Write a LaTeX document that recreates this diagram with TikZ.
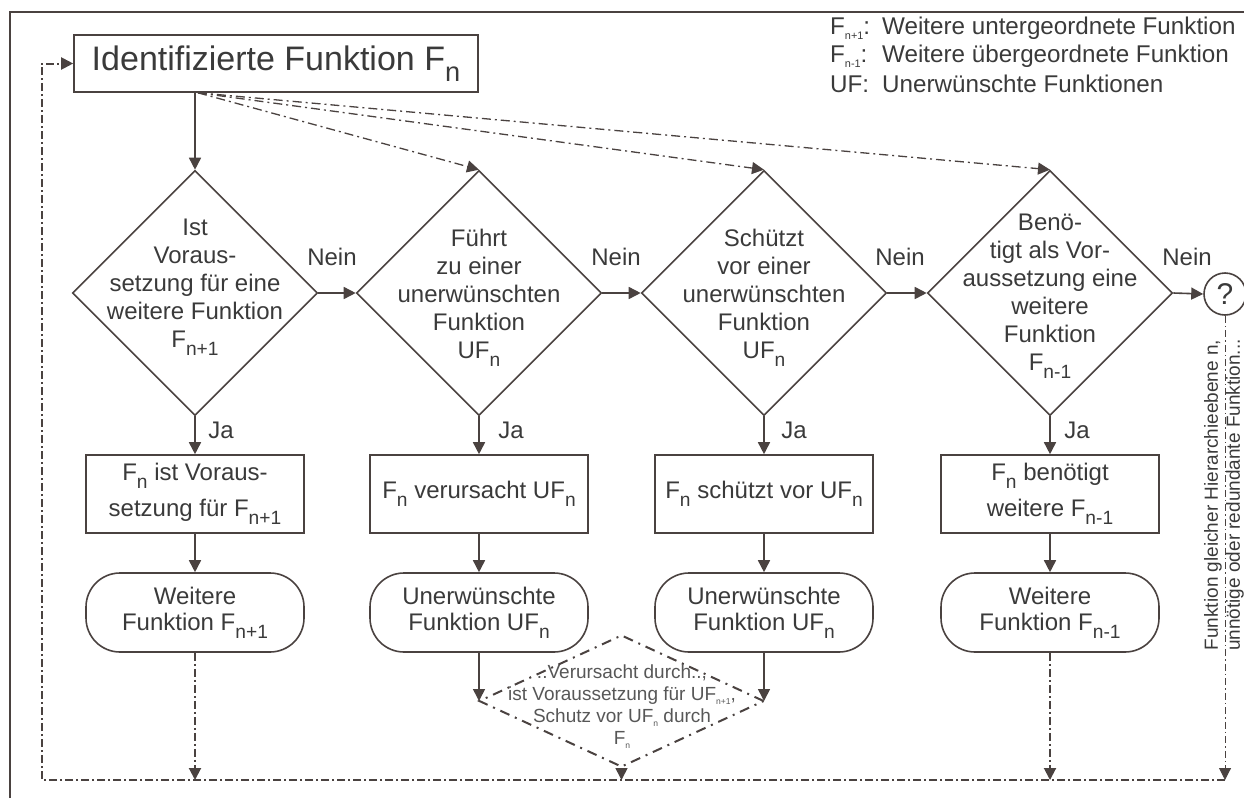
\documentclass[tikz,border=0pt]{standalone}
\usepackage{fontspec}
\setmainfont{Liberation Sans}
\usepackage{graphicx}
\usetikzlibrary{arrows.meta,shapes.geometric,calc}

\definecolor{ink}{RGB}{74,66,64}
\definecolor{txt}{RGB}{58,58,58}

% lowered subscripts as used in the chart
\newcommand\lsub[1]{\raisebox{-0.33em}{\scalebox{0.8}{#1}}}
\newcommand\tsub[1]{\raisebox{-0.2em}{\scalebox{0.45}{#1}}}
\newcommand\fs[2]{\fontsize{#1pt}{#2pt}\selectfont}

\begin{document}
\begin{tikzpicture}[x=1pt,y=-1pt,
  every node/.style={text=txt},
  solidline/.style={draw=ink, line width=1.6pt},
  tip/.style={-{Triangle[width=12pt,length=12pt]}},
  fanline/.style={draw=ink, line width=1.3pt, dash pattern=on 9pt off 4pt on 2pt off 4pt},
  returnline/.style={draw=ink, line width=2pt, dash pattern=on 8pt off 3pt on 2pt off 3pt},
  fineline/.style={draw=ink, line width=1pt, dash pattern=on 7pt off 3pt on 1.5pt off 3pt},
  titlebox/.style={draw=ink, line width=1.6pt, minimum width=404pt, minimum height=57pt, inner sep=0pt, font=\fs{34}{40}},
  dia/.style={diamond, aspect=1, draw=ink, line width=1.6pt, minimum width=245pt, minimum height=245pt, inner sep=0pt},
  dtext/.style={align=center, font=\fs{24}{28}, inner sep=0pt},
  stepbox/.style={draw=ink, line width=1.6pt, minimum width=218pt, minimum height=78pt, align=center, font=\fs{24}{36}, inner sep=0pt},
  term/.style={draw=ink, line width=1.6pt, rounded corners=34pt, minimum width=218pt, minimum height=79pt, align=center, font=\fs{24}{26}, inner sep=0pt},
  lab/.style={font=\fs{24}{28}, inner sep=0pt},
  legend/.style={font=\fs{24.2}{28}, inner sep=0pt, anchor=west},
  hint/.style={diamond, aspect=1, draw=ink, line width=2pt, dash pattern=on 10pt off 6pt on 2pt off 6pt, minimum width=285pt, minimum height=132pt, inner sep=0pt},
  hinttext/.style={align=center, font=\fs{19}{22}, inner sep=0pt, text=txt!85}
]
\useasboundingbox (0,0) rectangle (1244,798);

% outer frame
\draw[ink, line width=1.6pt] (10,798) -- (10,12) -- (1244,12);

% legend
\node[legend] (lg1) at (830,28) {\makebox[52pt][l]{F\tsub{n+1}:}Weitere untergeordnete Funktion};
\node[legend] (lg2) at (830,56) {\makebox[52pt][l]{F\tsub{n-1}:}Weitere übergeordnete Funktion};
\node[legend] (lg3) at (830,84) {\makebox[52pt][l]{UF:}Unerwünschte Funktionen};

% start
\node[titlebox] (title) at (276,63.5) {Identifizierte Funktion F\lsub{n}};

% decisions
\node[dia] (d1) at (195,293) {};
\node[dia] (d2) at (479,293) {};
\node[dia] (d3) at (764,293) {};
\node[dia] (d4) at (1050,293) {};
\node[dtext] (d1t) at (195,287) {Ist\\Voraus-\\setzung für eine\\weitere Funktion\\F\lsub{n+1}};
\node[dtext] (d2t) at (479,298) {Führt\\zu einer\\unerwünschten\\Funktion\\UF\lsub{n}};
\node[dtext] (d3t) at (764,298) {Schützt\\vor einer\\unerwünschten\\Funktion\\UF\lsub{n}};
\node[dtext] (d4t) at (1050,296) {Benö-\\tigt als Vor-\\aussetzung eine\\weitere\\Funktion\\F\lsub{n-1}};

\node[circle, draw=ink, line width=1.6pt, minimum size=42pt, inner sep=0pt, font=\fs{30}{30}] (q) at (1225,294) {?};

% results
\node[stepbox] (b1) at (195,494) {F\lsub{n} ist Voraus-\\setzung für F\lsub{n+1}};
\node[stepbox] (b2) at (479,494) {F\lsub{n} verursacht UF\lsub{n}};
\node[stepbox] (b3) at (764,494) {F\lsub{n} schützt vor UF\lsub{n}};
\node[stepbox] (b4) at (1050,494) {F\lsub{n} benötigt\\weitere F\lsub{n-1}};

\node[term] (t1) at (195,612.5) {Weitere\\Funktion F\lsub{n+1}};
\node[term] (t2) at (479,612.5) {Unerwünschte\\Funktion UF\lsub{n}};
\node[term] (t3) at (764,612.5) {Unerwünschte\\Funktion UF\lsub{n}};
\node[term] (t4) at (1050,612.5) {Weitere\\Funktion F\lsub{n-1}};

% follow-up question between the two UF columns
\node[hint] (dd) at (621.5,701) {};
\node[hinttext] (ddt) at (622,707) {..Verursacht durch..,\\ist Voraussetzung für UF\tsub{n+1},\\Schutz vor UF\tsub{n} durch\\F\tsub{n}};

% labels
\node[lab] (n1) at (332,257) {Nein};
\node[lab] (n2) at (616,257) {Nein};
\node[lab] (n3) at (900,257) {Nein};
\node[lab] (n4) at (1187,257) {Nein};
\node[lab] (j1) at (221,430) {Ja};
\node[lab] (j2) at (511,430) {Ja};
\node[lab] (j3) at (794,430) {Ja};
\node[lab] (j4) at (1077,430) {Ja};

\node[rotate=90, align=center, font=\fs{19}{22}, inner sep=0pt] (qt) at (1224,495)
  {Funktion gleicher Hierarchieebene n,\\unnötige oder redundante Funktion...};

% connectors
\coordinate (fan) at ([xshift=3pt]d1.north |- title.south);
\coordinate (bl) at (42,780);
\coordinate (br) at (q.south |- bl);

\draw[solidline,tip] (d1.north |- title.south) -- (d1.north);
\draw[fanline,tip] (fan) -- (d2.north);
\draw[fanline,tip] (fan) -- (d3.north);
\draw[fanline,tip] (fan) -- (d4.north);

\draw[solidline,tip] (d1.east) -- (d2.west);
\draw[solidline,tip] (d2.east) -- (d3.west);
\draw[solidline,tip] (d3.east) -- (d4.west);
\draw[solidline,tip] (d4.east) -- (q.west);

\foreach \i in {1,2,3,4}{
  \draw[solidline,tip] (d\i.south) -- (b\i.north);
  \draw[solidline,tip] (b\i.south) -- (t\i.north);
}

\draw[solidline,tip] (t2.south) -- (t2.south |- dd.west);
\draw[solidline,tip] (t3.south) -- (t3.south |- dd.east);
\draw[solidline,tip] (dd.south) -- (dd.south |- bl);

\draw[returnline,tip] (t1.south) -- (t1.south |- bl);
\draw[returnline,tip] (t4.south) -- (t4.south |- bl);
\draw[fineline,tip] (q.south) -- (br);

\draw[returnline,tip] (br) -- (bl) -- (bl |- title.west) -- (title.west);
\end{tikzpicture}
\end{document}
